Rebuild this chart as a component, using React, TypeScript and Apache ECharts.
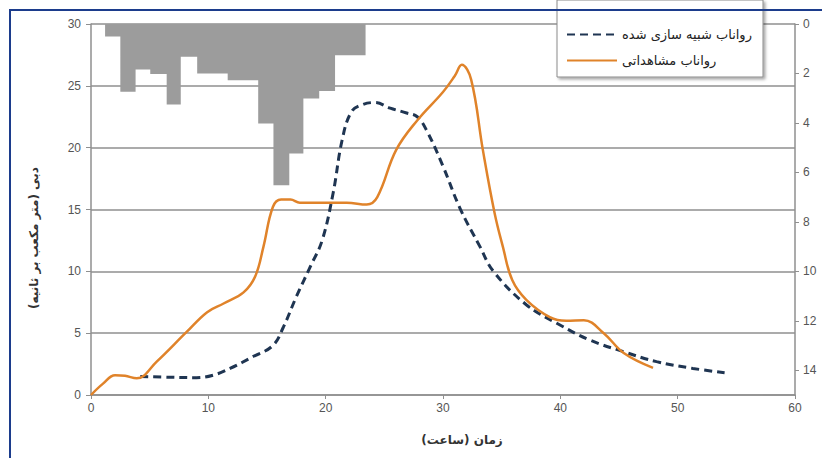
import React, { useEffect, useRef } from "react";
import * as echarts from "echarts";

const xTicks = [0, 10, 20, 30, 40, 50, 60];
const leftTicks = [0, 5, 10, 15, 20, 25, 30];
const rightTicks = [0, 2, 4, 6, 8, 10, 12, 14];

// hyetograph: bar edges (hours) and rain depth for each bar
const rainEdges = [1.2, 2.5, 3.8, 5.05, 6.45, 7.65, 9.05, 11.65, 14.25, 15.55, 16.9, 18.1, 19.45, 20.8, 23.4];
const rainDepth = [0.51, 2.74, 1.84, 2.02, 3.25, 1.32, 2.0, 2.27, 4.02, 6.52, 5.24, 3.01, 2.71, 1.26];

const simTime = [4.2, 7, 9, 10.4, 11.85, 13.8, 15.5, 16.4, 17.5, 18.7, 19.7, 20.65, 21.4, 22.2, 23.2, 24.2, 25.5, 26.9, 27.8, 28.6, 30, 31.45, 33.15, 34.3, 37.1, 39.7, 42.5, 45.4, 48.2, 51.3, 54];
const simFlow = [1.5, 1.43, 1.4, 1.6, 2.15, 3.1, 4.0, 5.5, 7.95, 10.4, 12.5, 16.4, 20.6, 22.9, 23.5, 23.65, 23.2, 22.8, 22.5, 21.4, 18.5, 15.1, 12, 10, 7.3, 5.8, 4.45, 3.5, 2.7, 2.15, 1.8];

const obsTime = [0, 1, 2.05, 2.9, 3.9, 5.6, 8.15, 9.9, 11.3, 13, 14, 14.7, 15.5, 16.2, 17, 17.8, 21.8, 23.5, 24.4, 26, 27.8, 30, 31, 31.6, 32.4, 33.4, 34.4, 35.1, 35.9, 37.1, 39.1, 40.5, 42, 43.7, 45.4, 47.9];
const obsFlow = [0, 0.9, 1.6, 1.55, 1.35, 2.7, 5.1, 6.7, 7.4, 8.3, 9.6, 12, 15.2, 15.8, 15.8, 15.55, 15.55, 15.4, 16, 19.8, 22.2, 24.5, 25.8, 26.7, 25.5, 19.8, 14.7, 12, 9.3, 7.7, 6.3, 6.0, 6.05, 5.0, 3.4, 2.2];

const simName = "رواناب شبیه سازی شده";
const obsName = "رواناب مشاهداتی";
const xName = "زمان (ساعت)";
const yName = "دبی (متر مکعب بر ثانیه)";

export default function App() {
  const ref = useRef<HTMLDivElement>(null);
  useEffect(() => {
    if (!ref.current) return;
    const chart = echarts.init(ref.current, null, { renderer: "svg" });

    const rainData: number[][] = [[rainEdges[0], 0]];
    for (let i = 0; i < rainDepth.length; i++) rainData.push([rainEdges[i], rainDepth[i]]);
    rainData.push([rainEdges[rainEdges.length - 1], rainDepth[rainDepth.length - 1]]);
    rainData.push([rainEdges[rainEdges.length - 1], 0]);

    const gridColor = "#8f8f8f";
    const labelStyle = { color: "#555", fontSize: 12, fontFamily: "Liberation Sans, Arial, sans-serif" };

    chart.setOption({
      animation: false,
      backgroundColor: "#fff",
      grid: { left: 91, right: 27, top: 24, bottom: 63 },
      xAxis: {
        type: "value",
        min: 0,
        max: 60,
        interval: 10,
        axisLine: { show: true, lineStyle: { color: gridColor, width: 1.5 } },
        axisTick: { show: true, length: 4, lineStyle: { color: gridColor } },
        axisLabel: { ...labelStyle, margin: 7, formatter: (v: number) => (xTicks.includes(v) ? String(v) : "") },
        splitLine: { show: false },
      },
      yAxis: [
        {
          type: "value",
          min: 0,
          max: 30,
          interval: 5,
          axisLine: { show: true, lineStyle: { color: gridColor, width: 1.5 } },
          axisTick: { show: true, length: 5, lineStyle: { color: gridColor } },
          axisLabel: { ...labelStyle, margin: 10, formatter: (v: number) => (leftTicks.includes(v) ? String(v) : "") },
          splitLine: { show: true, lineStyle: { color: gridColor, width: 1.5 } },
        },
        {
          type: "value",
          position: "right",
          inverse: true,
          min: 0,
          max: 15,
          interval: 2,
          axisLine: { show: true, lineStyle: { color: gridColor, width: 1.5 } },
          axisTick: { show: true, length: 4, lineStyle: { color: gridColor } },
          axisLabel: {
            ...labelStyle,
            margin: 8,
            showMaxLabel: false,
            formatter: (v: number) => (rightTicks.includes(v) ? String(v) : ""),
          },
          splitLine: { show: false },
        },
      ],
      legend: {
        orient: "vertical",
        left: 557,
        top: 5,
        padding: [23, 8, 8, 9],
        itemWidth: 50,
        itemHeight: 14,
        itemGap: 13,
        z: 10,
        itemStyle: { opacity: 0 },
        textStyle: { color: "#222", fontSize: 13, fontFamily: "DejaVu Sans, sans-serif" },
        data: [{ name: simName }, { name: obsName }],
      },
      graphic: [
        {
          type: "rect",
          z: 5,
          shape: { x: 557, y: 0, width: 206, height: 77 },
          style: {
            fill: "#fff",
            stroke: "#8a8a8a",
            lineWidth: 1,
            shadowBlur: 3,
            shadowOffsetX: 2,
            shadowOffsetY: 2,
            shadowColor: "rgba(0,0,0,0.35)",
          },
        },
        {
          type: "text",
          z: 20,
          x: 462,
          y: 440,
          style: {
            text: xName,
            fill: "#333",
            font: "bold 12px DejaVu Sans, sans-serif",
            align: "center",
            verticalAlign: "middle",
          },
        },
        {
          type: "text",
          z: 20,
          x: 34,
          y: 238,
          rotation: Math.PI / 2,
          style: {
            text: yName,
            fill: "#333",
            font: "bold 12px DejaVu Sans, sans-serif",
            align: "center",
            verticalAlign: "middle",
          },
        },
        {
          type: "rect",
          z: 30,
          shape: { x: 10, y: 10, width: 900, height: 600 },
          style: { fill: "none", stroke: "#1c3c8c", lineWidth: 2 },
        },
      ],
      series: [
        {
          name: "rain",
          type: "line",
          yAxisIndex: 1,
          step: "end",
          showSymbol: false,
          symbol: "none",
          data: rainData,
          lineStyle: { width: 0, color: "#9c9c9c" },
          areaStyle: { color: "#9c9c9c", opacity: 1 },
          z: 1,
        },
        {
          name: simName,
          type: "line",
          smooth: 0.4,
          showSymbol: false,
          symbol: "none",
          data: simTime.map((t, i) => [t, simFlow[i]]),
          lineStyle: { color: "#1f3552", width: 3, type: [8, 5] },
          itemStyle: { color: "#1f3552" },
          z: 3,
        },
        {
          name: obsName,
          type: "line",
          smooth: 0.4,
          showSymbol: false,
          symbol: "none",
          data: obsTime.map((t, i) => [t, obsFlow[i]]),
          lineStyle: { color: "#e0832a", width: 2.5 },
          itemStyle: { color: "#e0832a" },
          z: 4,
        },
      ],
    });
    return () => chart.dispose();
  }, []);
  return (
    <div
      ref={ref}
      style={{ position: "fixed", left: 0, top: 0, width: 822, height: 458, background: "#fff" }}
    />
  );
}
